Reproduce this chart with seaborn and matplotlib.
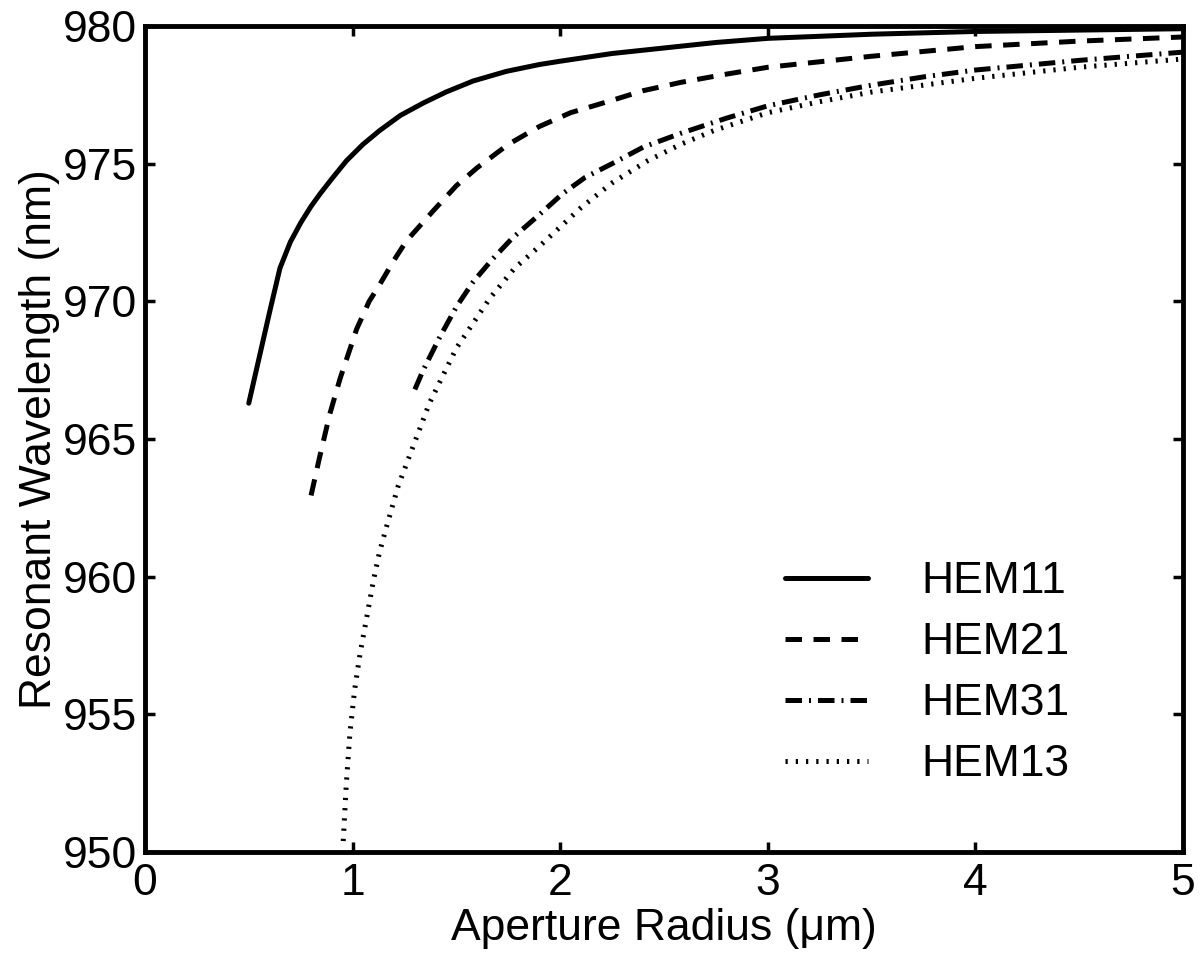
import matplotlib
matplotlib.use('Agg')

import numpy as np
import pandas as pd
import seaborn as sns
import matplotlib.pyplot as plt

# (aperture radius in um, wavelength in nm)
hem11_r = [0.5, 0.6, 0.65, 0.7, 0.75, 0.8, 0.843, 0.9, 0.97, 1.05, 1.13, 1.23, 1.34, 1.45, 1.58,
           1.74, 1.9, 2.0, 2.25, 2.5, 2.75, 3.0, 3.5, 4.0, 4.5, 5.0]
hem11_wl = [966.3, 969.6, 971.2, 972.15, 972.85, 973.45, 973.9, 974.45, 975.1, 975.7, 976.2, 976.75, 977.2, 977.6, 978.0,
            978.35, 978.6, 978.72, 979.0, 979.2, 979.4, 979.55, 979.7, 979.8, 979.85, 979.9]

hem21_r = [0.8, 0.84, 0.89, 0.94, 1.02, 1.08, 1.13, 1.2, 1.26, 1.39, 1.5, 1.6, 1.75, 1.9, 2.05,
           2.25, 2.4, 2.58, 2.8, 3.0, 3.25, 3.5, 4.0, 4.5, 5.0]
hem21_wl = [962.95, 964.3, 965.9, 967.2, 969.0, 970.0, 970.6, 971.5, 972.2, 973.3, 974.2, 974.85, 975.7, 976.35, 976.85,
            977.3, 977.65, 977.95, 978.25, 978.5, 978.7, 978.9, 979.25, 979.45, 979.6]

hem31_r = [1.3, 1.34, 1.42, 1.5, 1.58, 1.67, 1.77, 1.9, 2.01, 2.12, 2.25, 2.4, 2.58, 2.8, 3.0,
           3.25, 3.5, 3.75, 4.0, 4.5, 5.0]
hem31_wl = [966.8, 967.5, 968.7, 969.8, 970.7, 971.5, 972.3, 973.15, 973.9, 974.5, 975.0, 975.6, 976.1, 976.65, 977.1,
            977.5, 977.85, 978.15, 978.4, 978.75, 979.05]

hem13_r = [0.955, 0.97, 0.987, 1.01, 1.036, 1.07, 1.10, 1.13, 1.163, 1.22, 1.28, 1.37, 1.5, 1.66, 1.78,
           1.9, 2.1, 2.25, 2.42, 2.58, 2.74, 3.0, 3.25, 3.5, 4.0, 4.5, 5.0]
hem13_wl = [950.4, 952.5, 954.3, 955.9, 957.2, 958.6, 959.85, 960.9, 961.8, 963.3, 964.5, 966.3, 968.3, 970.1, 971.2,
            972.0, 973.4, 974.3, 975.1, 975.7, 976.2, 976.85, 977.25, 977.6, 978.1, 978.5, 978.8]

modes = ['HEM11', 'HEM21', 'HEM31', 'HEM13']
x_ticks = [0, 1, 2, 3, 4, 5]
y_ticks = [950, 955, 960, 965, 970, 975, 980]

sns.set_theme(style='ticks')
plt.rcParams['font.family'] = ['Liberation Sans', 'DejaVu Sans']
plt.rcParams.update({
    'xtick.direction': 'in', 'ytick.direction': 'in',
    'xtick.top': True, 'ytick.right': True,
    'xtick.major.size': 7, 'ytick.major.size': 7,
    'xtick.major.width': 2.5, 'ytick.major.width': 2.5,
    'axes.linewidth': 3.5, 'axes.edgecolor': 'black',
    'xtick.color': 'black', 'ytick.color': 'black',
    'text.color': 'black', 'axes.labelcolor': 'black',
    'xtick.labelcolor': 'black', 'ytick.labelcolor': 'black',
    'font.size': 32,
})

fig = plt.figure(figsize=(12.04, 9.58), dpi=100)
ax = fig.add_axes([0.1204, 0.1106, 0.8622, 0.8623])

lw = 3.6
series = [
    (hem11_r, hem11_wl, '-'),
    (hem21_r, hem21_wl, (0, (3.3, 2.3))),
    (hem31_r, hem31_wl, (0, (3.3, 1.4, 0.4, 1.4))),
    (hem13_r, hem13_wl, (0, (0.45, 1.6))),
]
for name, (r, wl, ls) in zip(modes, series):
    df = pd.DataFrame({'r': r, 'wl': wl})
    sns.lineplot(data=df, x='r', y='wl', ax=ax, color='black', lw=lw,
                 linestyle=ls, label=name, errorbar=None, sort=False)

ax.set_xlim(0, 5)
ax.set_ylim(950, 980)
ax.set_xticks(x_ticks)
ax.set_yticks(y_ticks)
ax.tick_params(labelsize=32)
ax.tick_params(axis='y', pad=6)
ax.tick_params(axis='x', pad=8)
ax.set_xlabel('Aperture Radius (\u03bcm)', fontsize=32, labelpad=3)
ax.set_ylabel('Resonant Wavelength (nm)', fontsize=32, labelpad=2)

ax.legend(loc='upper left', bbox_to_anchor=(0.6166, 0.352), frameon=False,
          fontsize=32, handlelength=1.87, handletextpad=1.2,
          labelspacing=0.45, borderpad=0, borderaxespad=0)

plt.savefig('out.png', dpi=100)
plt.close(fig)
